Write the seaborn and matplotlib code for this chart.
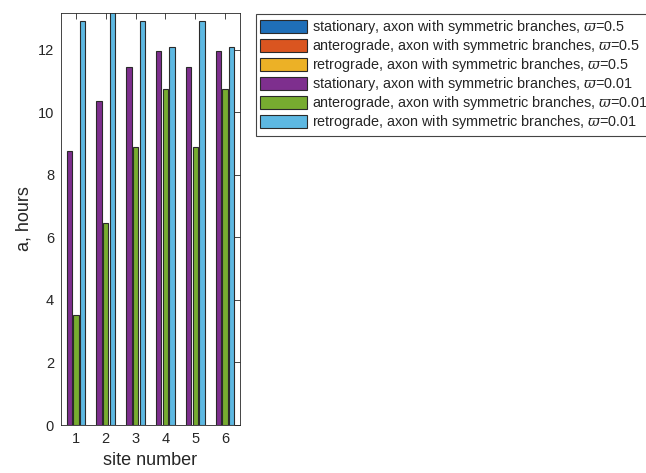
import numpy as np
import pandas as pd
import matplotlib
matplotlib.use("Agg")
import matplotlib.pyplot as plt
from matplotlib.patches import Patch
import seaborn as sns

# Site numbers along the axon
sites = [1, 2, 3, 4, 5, 6]

# Mean age of particles (hours), axon with symmetric branches, varpi = 0.01
stationary_001 = [8.77, 10.38, 11.45, 11.98, 11.45, 11.98]
anterograde_001 = [3.51, 6.47, 8.88, 10.76, 8.88, 10.76]
retrograde_001 = [12.91, 13.20, 12.91, 12.10, 12.91, 12.10]

modes = ["stationary", "anterograde", "retrograde"]

legend_labels = [
    r"stationary, axon with symmetric branches, $\varpi$=0.5",
    r"anterograde, axon with symmetric branches, $\varpi$=0.5",
    r"retrograde, axon with symmetric branches, $\varpi$=0.5",
    r"stationary, axon with symmetric branches, $\varpi$=0.01",
    r"anterograde, axon with symmetric branches, $\varpi$=0.01",
    r"retrograde, axon with symmetric branches, $\varpi$=0.01",
]
colors_05 = ["#1F6FB8", "#DA5520", "#ECB126"]
colors_001 = ["#7E2F8E", "#77AC30", "#5DB8E2"]

ink = "#262626"
edge = "#2a2a2a"

sns.set_theme(style="white")
plt.rcParams["font.family"] = ["Liberation Sans", "DejaVu Sans"]
plt.rcParams["mathtext.fontset"] = "dejavuserif"
plt.rcParams["axes.edgecolor"] = ink
plt.rcParams["text.color"] = ink
plt.rcParams["xtick.color"] = ink
plt.rcParams["ytick.color"] = ink
plt.rcParams["axes.labelcolor"] = ink

df = pd.DataFrame({
    "site": np.repeat(sites, 3),
    "mode": modes * len(sites),
    "value": np.ravel(np.column_stack([stationary_001, anterograde_001, retrograde_001])),
})

fig = plt.figure(figsize=(6.46, 4.73), dpi=100)
ax = fig.add_axes([61 / 646, 48 / 473, 179 / 646, 412 / 473])

sns.barplot(
    data=df, x="site", y="value", hue="mode", hue_order=modes,
    palette=colors_001, width=0.667, gap=0.2,
    edgecolor=edge, linewidth=0.8, saturation=1.0,
    legend=False, ax=ax,
)

ax.set_xlim(-0.5, len(sites) - 0.5)
ax.set_ylim(0, 13.18)
ax.set_yticks(np.arange(0, 13, 2))
ax.set_xticks(range(len(sites)))
ax.set_xticklabels([str(s) for s in sites])
ax.tick_params(axis="both", direction="in", top=True, right=True,
               length=4, width=0.6, labelsize=10.5, pad=5)
for sp in ax.spines.values():
    sp.set_visible(True)
    sp.set_linewidth(0.6)
    sp.set_color(ink)

ax.set_xlabel("site number", fontsize=13, labelpad=4)
ax.set_ylabel("a, hours", fontsize=13, labelpad=4)

handles = [Patch(facecolor=c, edgecolor=edge, linewidth=0.8)
           for c in colors_05 + colors_001]
leg = fig.legend(
    handles, legend_labels, loc="upper left",
    bbox_to_anchor=(256 / 646, 1 - 14 / 473), borderaxespad=0,
    fontsize=10.4, frameon=True, fancybox=False, framealpha=1,
    handlelength=3.25, handleheight=1.05, handletextpad=0.3,
    labelspacing=0.07, borderpad=0.3,
)
leg.get_frame().set_edgecolor("#444444")
leg.get_frame().set_linewidth(0.8)

fig.savefig("out.png", dpi=100)
